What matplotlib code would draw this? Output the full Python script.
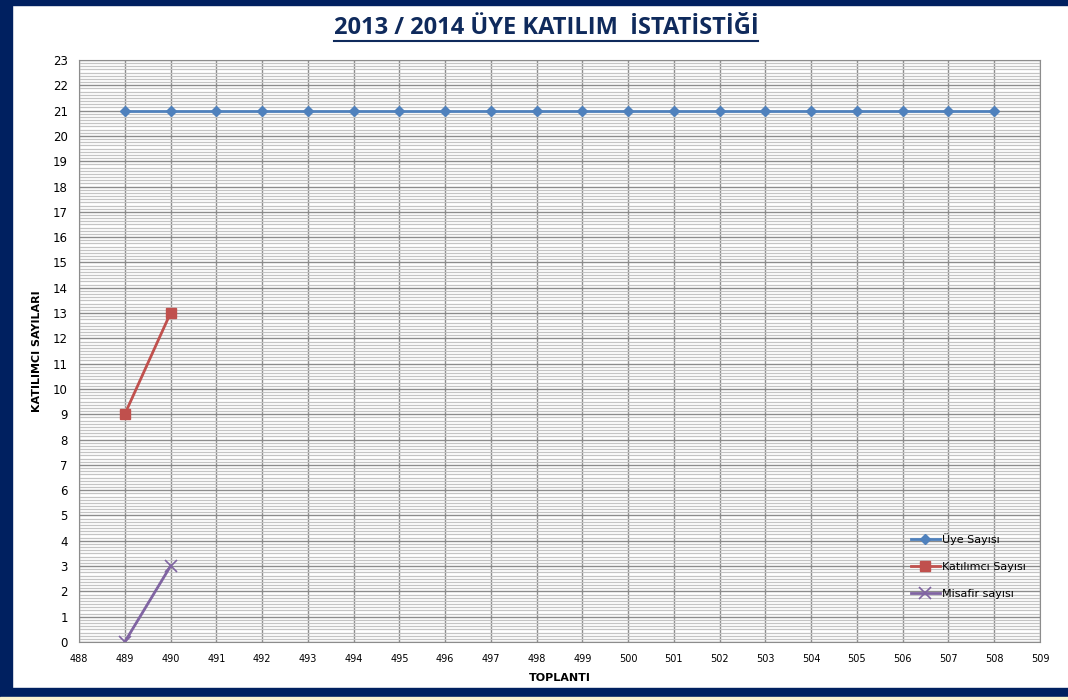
import numpy as np
import matplotlib
matplotlib.use("Agg")
import matplotlib.pyplot as plt
from matplotlib.patches import Rectangle
from matplotlib.lines import Line2D
from matplotlib.ticker import MultipleLocator

# data
toplanti = list(range(489, 509))
uye_sayisi = [21] * 20
katilimci_x = [489, 490]
katilimci_sayisi = [9, 13]
misafir_x = [489, 490]
misafir_sayisi = [0, 3]

title_text = "2013 / 2014 ÜYE KATILIM  İSTATİSTİĞİ"
series_names = ["Üye Sayısı", "Katılımcı Sayısı", "Misafir sayısı"]

navy = "#002060"
fig = plt.figure(figsize=(10.68, 7.0), dpi=100)
fig.patch.set_facecolor("white")

# navy frame around the slide
fig.patches.append(Rectangle((0, 0), 12 / 1068, 1, transform=fig.transFigure, color=navy, zorder=0))
fig.patches.append(Rectangle((0, 1 - 5 / 700), 1, 5 / 700, transform=fig.transFigure, color=navy, zorder=0))
fig.patches.append(Rectangle((0, 3 / 700), 1, 9 / 700, transform=fig.transFigure, color=navy, zorder=0))
fig.patches.append(Rectangle((0, 0), 1, 3 / 700, transform=fig.transFigure, color="#FBF3D0", zorder=0))

ax = fig.add_axes([79 / 1068, 1 - 642 / 700, 961 / 1068, 582 / 700])

ax.plot(toplanti, uye_sayisi, color="#4F81BD", marker="D", markersize=5, lw=2, label=series_names[0])
ax.plot(katilimci_x, katilimci_sayisi, color="#C0504D", marker="s", markersize=7, lw=2, label=series_names[1])
ax.plot(misafir_x, misafir_sayisi, color="#8064A2", marker="x", markersize=8, mew=1.2, lw=2, label=series_names[2])

ax.set_xlim(488, 509)
ax.set_ylim(0, 23)
ax.xaxis.set_major_locator(MultipleLocator(1))
ax.yaxis.set_major_locator(MultipleLocator(1))
ax.yaxis.set_minor_locator(MultipleLocator(0.125))
ax.grid(which="major", color="#8C8C8C", lw=1.0)
ax.grid(which="minor", axis="y", color="#C4C4C4", lw=0.9)
ax.set_axisbelow(True)
ax.tick_params(which="both", length=0)
ax.tick_params(axis="x", labelsize=7, pad=9)
ax.tick_params(axis="y", labelsize=8.5, pad=8)
for s in ax.spines.values():
    s.set_color("#8C8C8C")

ax.set_xlabel("TOPLANTI", fontsize=8, fontweight="bold", labelpad=6)
ax.set_ylabel("KATILIMCI SAYILARI", fontsize=8, fontweight="bold", labelpad=8)

ax.legend(loc="upper left", bbox_to_anchor=(0.855, 0.205), frameon=False, fontsize=8,
          handlelength=2.6, handletextpad=0.2, labelspacing=1.55)

t = fig.text(546 / 1068, 1 - 28 / 700, title_text, ha="center", va="center",
             fontsize=17, fontweight="bold", color="#0F2A5C", family="Open Sans")
fig.canvas.draw()
bb = t.get_window_extent().transformed(fig.transFigure.inverted())
fig.lines.append(Line2D([bb.x0, bb.x1], [1 - 41 / 700] * 2, transform=fig.transFigure,
                        color="#0F2A5C", lw=1.5))

fig.savefig("out.png", dpi=100)
